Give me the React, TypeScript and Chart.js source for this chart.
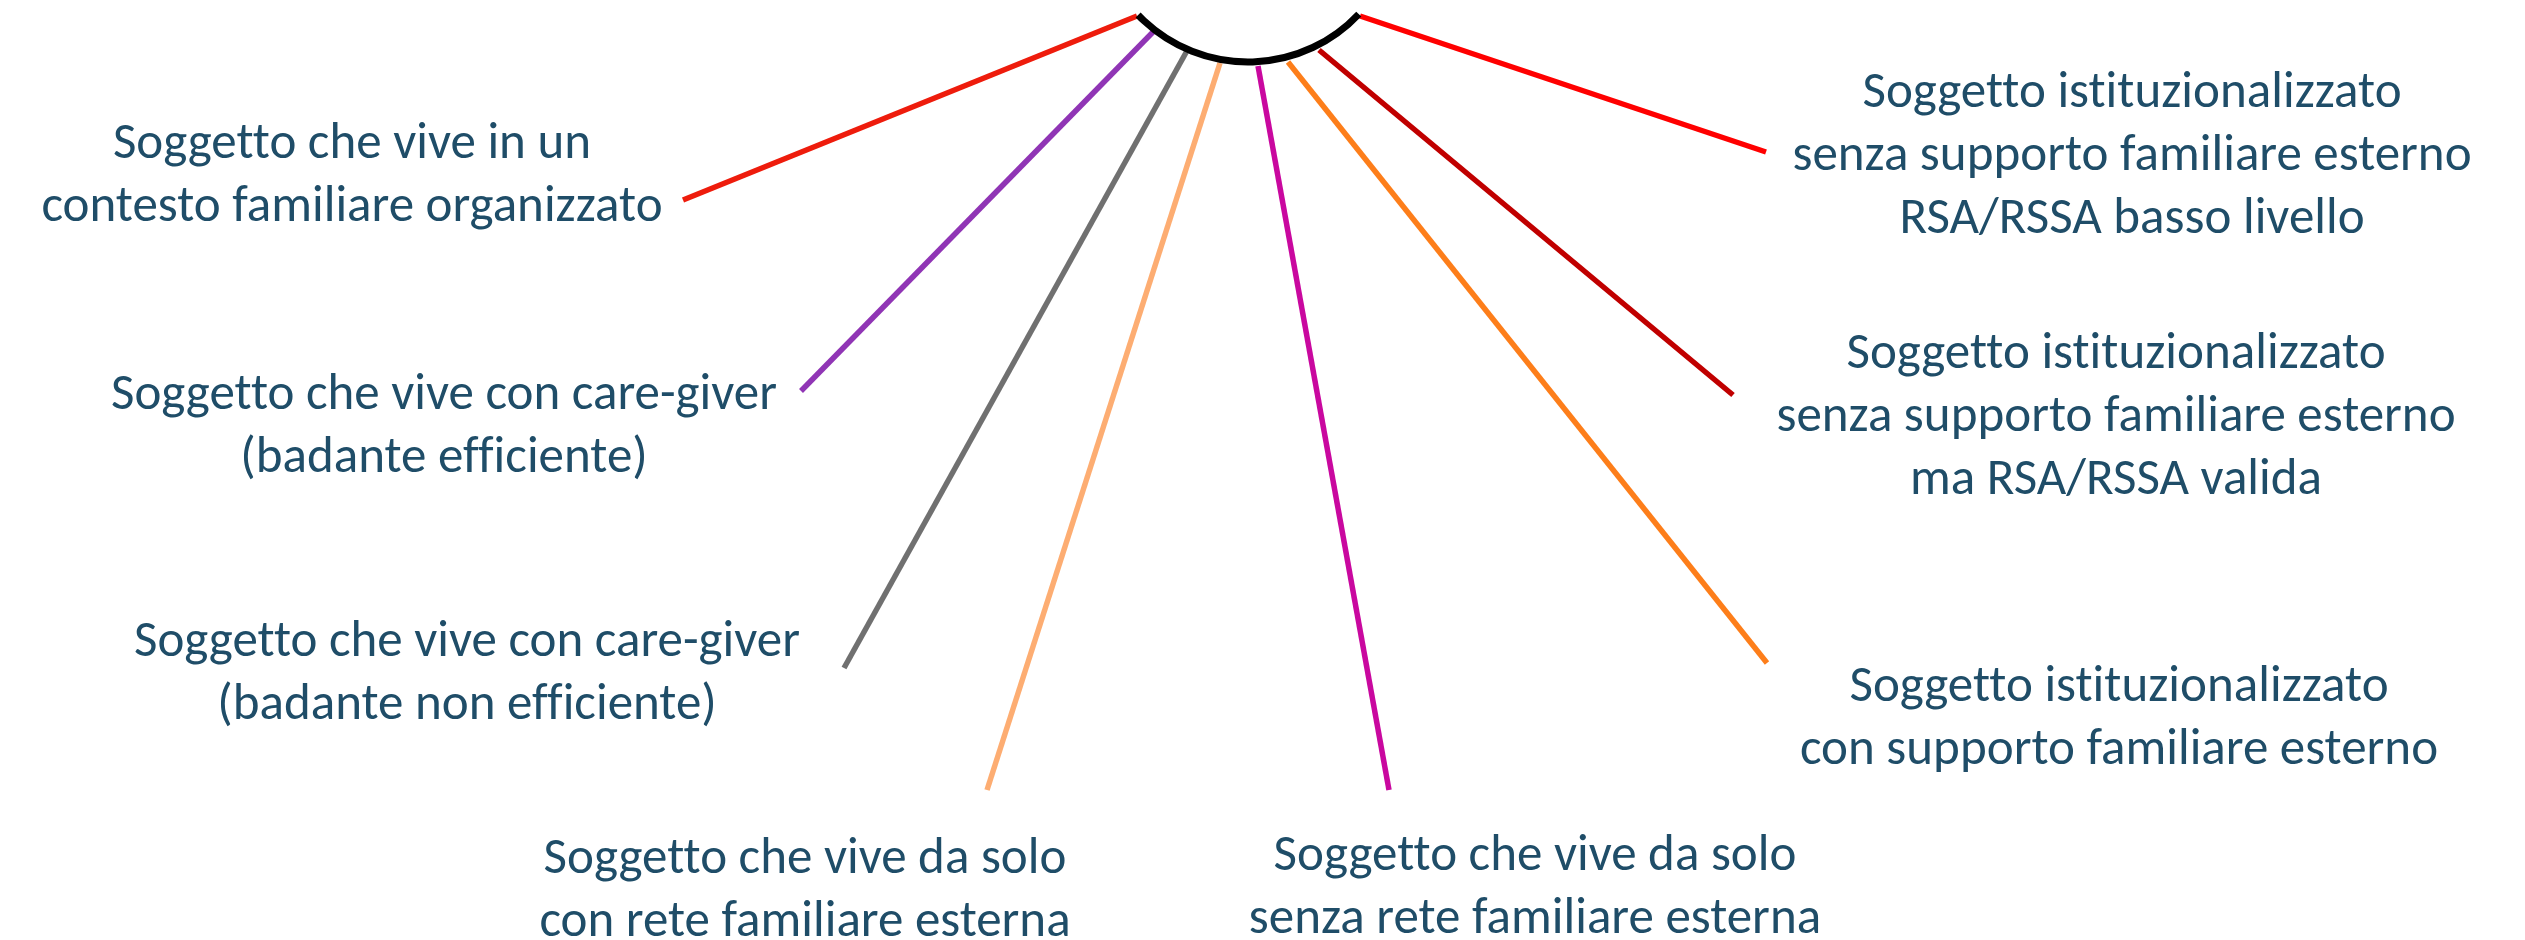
import React, { useEffect, useRef } from "react";
import { Chart, registerables } from "chart.js";

Chart.register(...registerables);

const W = 2525;
const H = 940;

// Living-situation categories (label lines separated by \n)
const categories = [
  "Soggetto che vive in un\ncontesto familiare organizzato",
  "Soggetto che vive con care-giver\n(badante efficiente)",
  "Soggetto che vive con care-giver\n(badante non efficiente)",
  "Soggetto che vive da solo\ncon rete familiare esterna",
  "Soggetto che vive da solo\nsenza rete familiare esterna",
  "Soggetto istituzionalizzato\ncon supporto familiare esterno",
  "Soggetto istituzionalizzato\nsenza supporto familiare esterno\nma RSA/RSSA valida",
  "Soggetto istituzionalizzato\nsenza supporto familiare esterno\nRSA/RSSA basso livello",
];

const lineColors = [
  "#EE1C0C",
  "#9035B5",
  "#707070",
  "#FDAD72",
  "#C9089F",
  "#FD7E1A",
  "#C00000",
  "#FF0000",
];

// connector endpoints (diagram units)
const innerX = [1137, 1153, 1188, 1220, 1258, 1288, 1319, 1360];
const innerY = [16, 32, 49, 63, 66, 62, 50, 16];
const outerX = [683, 801, 844, 987, 1389, 1767, 1733, 1766];
const outerY = [200, 391, 668, 790, 790, 663, 395, 152];

// label anchors: centre x, middle of first line y
const labelX = [352, 444, 467, 805, 1535, 2119, 2116, 2132];
const labelY = [145, 396, 643, 860, 857, 688, 355, 94];

// hub arc
const arcCenterX = 1248;
const arcCenterY = -90;
const arcRadius = 152;
const arcStartDeg = 43.2;
const arcEndDeg = 136.3;

const TEXT_COLOR = "#1F4D68";
const FONT_SIZE = 51;
const LINE_GAP = 63;

const overlayPlugin = {
  id: "overlay",
  afterDatasetsDraw(chart: any) {
    const ctx = chart.ctx;
    const xs = chart.scales.x;
    const ys = chart.scales.y;
    const cx = xs.getPixelForValue(arcCenterX);
    const cy = ys.getPixelForValue(arcCenterY);
    const r = Math.abs(xs.getPixelForValue(arcCenterX + arcRadius) - cx);
    ctx.save();
    ctx.beginPath();
    ctx.arc(cx, cy, r, (arcStartDeg * Math.PI) / 180, (arcEndDeg * Math.PI) / 180, false);
    ctx.strokeStyle = "#000000";
    ctx.lineWidth = 7;
    ctx.lineCap = "butt";
    ctx.stroke();
    ctx.restore();
  },
  afterDraw(chart: any) {
    const ctx = chart.ctx;
    const xs = chart.scales.x;
    const ys = chart.scales.y;
    ctx.save();
    ctx.fillStyle = TEXT_COLOR;
    ctx.font = `${FONT_SIZE}px Carlito, Lato, "Open Sans", sans-serif`;
    try {
      (ctx as any).textRendering = "optimizeSpeed";
      (ctx as any).letterSpacing = "0.01px";
    } catch (e) {}
    ctx.textAlign = "center";
    ctx.textBaseline = "middle";
    categories.forEach((text, i) => {
      const lines = text.split("\n");
      const px = xs.getPixelForValue(labelX[i]);
      lines.forEach((ln, j) => {
        const py = ys.getPixelForValue(labelY[i] + j * LINE_GAP);
        ctx.fillText(ln, px, py);
      });
    });
    ctx.restore();
  },
};

export default function App() {
  const ref = useRef<HTMLCanvasElement | null>(null);
  useEffect(() => {
    document.body.style.margin = "0";
    document.body.style.overflow = "hidden";
    const canvas = ref.current;
    if (!canvas) return;
    const datasets = categories.map((c, i) => ({
      label: c,
      data: [
        { x: innerX[i], y: innerY[i] },
        { x: outerX[i], y: outerY[i] },
      ],
      borderColor: lineColors[i],
      backgroundColor: lineColors[i],
      borderWidth: 5.5,
      borderCapStyle: "butt" as const,
      pointRadius: 0,
      showLine: true,
      fill: false,
    }));
    const chart = new Chart(canvas, {
      type: "scatter",
      data: { datasets },
      options: {
        responsive: false,
        maintainAspectRatio: false,
        animation: false,
        devicePixelRatio: 1,
        layout: { padding: 0 },
        plugins: { legend: { display: false }, tooltip: { enabled: false } },
        scales: {
          x: { type: "linear", min: 0, max: W, display: false },
          y: { type: "linear", min: 0, max: H, reverse: true, display: false },
        },
      },
      plugins: [overlayPlugin],
    });
    return () => chart.destroy();
  }, []);
  return (
    <div style={{ width: W, height: H, background: "#ffffff" }}>
      <canvas ref={ref} width={W} height={H} style={{ display: "block", width: W, height: H }} />
    </div>
  );
}
